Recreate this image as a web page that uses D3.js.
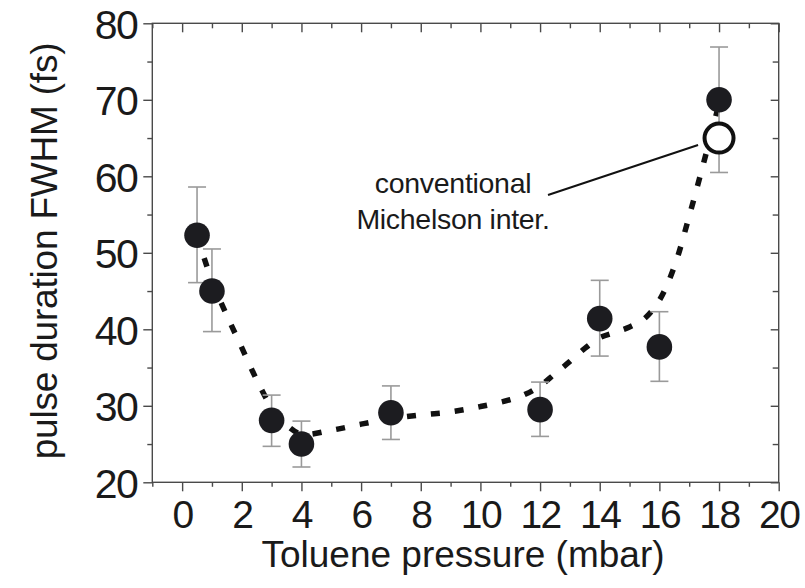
<!DOCTYPE html>
<html>
<head>
<meta charset="utf-8">
<script src="https://cdn.jsdelivr.net/npm/d3@7"></script>
<style>
  html, body { margin: 0; padding: 0; background: #fff; }
  svg { display: block; }
  text { font-family: "Liberation Sans", Arial, Helvetica, sans-serif; fill: #1a1a1a; }
</style>
</head>
<body>
<svg id="chart" width="805" height="588"></svg>
<script>
// Measured pulse duration vs toluene pressure
const pressure = [0.5, 1, 3, 4, 7, 12, 14, 16, 18];
const duration = [52.3, 45.0, 28.1, 25.0, 29.1, 29.5, 41.4, 37.7, 70.0];
const errUp    = [6.3, 5.5, 3.3, 3.0, 3.5, 3.6, 5.0, 4.6, 6.9];
const errDown  = [6.2, 5.3, 3.4, 3.0, 3.5, 3.5, 4.9, 4.5, 9.5];

// Reference measurement with a conventional Michelson interferometer
const michelsonP = [18];
const michelsonD = [65];

// Dashed guide-to-the-eye curve
const guideP = [0.5, 1, 1.5, 2, 2.5, 3, 3.5, 4, 5, 6, 7, 8, 9, 10, 11, 11.5, 12, 12.5, 13, 13.5, 14, 14.5, 15, 15.5, 16, 16.5, 17, 17.5, 18];
const guideD = [52.3, 46.3, 41.8, 37.6, 33.4, 29.8, 27.5, 26.3, 26.8, 27.6, 28.3, 28.8, 29.2, 29.9, 30.8, 31.5, 32.6, 34.2, 35.8, 37.5, 38.9, 39.6, 40.3, 41.4, 43.8, 48.2, 54.8, 62.0, 69.5];

// Axis ticks and labels
const xMajor = [0, 2, 4, 6, 8, 10, 12, 14, 16, 18, 20];
const xMinor = [-1, 1, 3, 5, 7, 9, 11, 13, 15, 17, 19];
const yMajor = [20, 30, 40, 50, 60, 70, 80];
const yMinor = [25, 35, 45, 55, 65, 75];

const xTitle = "Toluene pressure (mbar)";
const yTitle = "pulse duration FWHM (fs)";
const noteLines = ["conventional", "Michelson inter."];

const svg = d3.select("#chart");

const x = d3.scaleLinear().domain([-1, 20]).range([152.3, 778.7]);
const y = d3.scaleLinear().domain([20, 80]).range([482.3, 23.3]);

const axisColor = "#4a4a4a";

// Frame
svg.append("rect")
  .attr("x", x(-1)).attr("y", y(80))
  .attr("width", x(20) - x(-1)).attr("height", y(20) - y(80))
  .attr("fill", "none").attr("stroke", axisColor).attr("stroke-width", 1.4);

function styleAxis(g) {
  g.select(".domain").remove();
  g.selectAll(".tick line").attr("stroke", axisColor).attr("stroke-width", 1.4);
}

// Bottom axis: major + minor ticks outward, labels on majors
svg.append("g").attr("transform", `translate(0,${y(20)})`)
  .call(d3.axisBottom(x).tickValues(xMajor).tickSize(9).tickPadding(9).tickFormat(d3.format("d")))
  .call(styleAxis)
  .call(g => g.selectAll("text").attr("font-size", 39).attr("fill", "#1a1a1a")
        .attr("font-family", "Liberation Sans, Arial, sans-serif").attr("letter-spacing", -1.5));
svg.append("g").attr("transform", `translate(0,${y(20)})`)
  .call(d3.axisBottom(x).tickValues(xMinor).tickSize(4.5).tickFormat(""))
  .call(styleAxis);

// Top axis: ticks inward
svg.append("g").attr("transform", `translate(0,${y(80)})`)
  .call(d3.axisBottom(x).tickValues(xMajor).tickSize(9).tickFormat(""))
  .call(styleAxis);
svg.append("g").attr("transform", `translate(0,${y(80)})`)
  .call(d3.axisBottom(x).tickValues(xMinor).tickSize(5).tickFormat(""))
  .call(styleAxis);

// Left axis: ticks outward with labels
svg.append("g").attr("transform", `translate(${x(-1)},0)`)
  .call(d3.axisLeft(y).tickValues(yMajor).tickSize(9).tickPadding(6).tickFormat(d3.format("d")))
  .call(styleAxis)
  .call(g => g.selectAll("text").attr("font-size", 41).attr("fill", "#1a1a1a")
        .attr("font-family", "Liberation Sans, Arial, sans-serif").attr("letter-spacing", -1.5)
        .attr("dy", "0.36em"));
svg.append("g").attr("transform", `translate(${x(-1)},0)`)
  .call(d3.axisLeft(y).tickValues(yMinor).tickSize(5).tickFormat(""))
  .call(styleAxis);

// Right axis: ticks inward
svg.append("g").attr("transform", `translate(${x(20)},0)`)
  .call(d3.axisLeft(y).tickValues(yMajor).tickSize(8).tickFormat(""))
  .call(styleAxis);
svg.append("g").attr("transform", `translate(${x(20)},0)`)
  .call(d3.axisLeft(y).tickValues(yMinor).tickSize(6).tickFormat(""))
  .call(styleAxis);

// Axis titles
svg.append("text")
  .attr("x", 463).attr("y", 567)
  .attr("text-anchor", "middle").attr("font-size", 37)
  .attr("letter-spacing", 0)
  .text(xTitle);

svg.append("text")
  .attr("transform", `translate(57,251) rotate(-90)`)
  .attr("text-anchor", "middle").attr("font-size", 37)
  .attr("letter-spacing", -0.2)
  .text(yTitle);

// Guide curve
const guideData = guideP.map((p, i) => [p, guideD[i]]);
svg.append("path")
  .datum(guideData)
  .attr("d", d3.line().x(d => x(d[0])).y(d => y(d[1])).curve(d3.curveCatmullRom.alpha(0.5)))
  .attr("fill", "none").attr("stroke", "#111")
  .attr("stroke-width", 5.5).attr("stroke-dasharray", "9 15");

// Error bars
const pts = pressure.map((p, i) => ({ p, d: duration[i], up: errUp[i], dn: errDown[i] }));
const eb = svg.append("g").attr("stroke", "#9a9a9a").attr("stroke-width", 1.6).attr("fill", "none");
pts.forEach(pt => {
  const cx = x(pt.p), top = y(pt.d + pt.up), bot = y(pt.d - pt.dn);
  eb.append("line").attr("x1", cx).attr("x2", cx).attr("y1", top).attr("y2", bot);
  eb.append("line").attr("x1", cx - 9).attr("x2", cx + 9).attr("y1", top).attr("y2", top);
  eb.append("line").attr("x1", cx - 9).attr("x2", cx + 9).attr("y1", bot).attr("y2", bot);
});

// Filled markers
svg.append("g").selectAll("circle").data(pts).join("circle")
  .attr("cx", d => x(d.p)).attr("cy", d => y(d.d)).attr("r", 12.8)
  .attr("fill", "#1c1c20");

// Open marker
const mich = michelsonP.map((p, i) => ({ p, d: michelsonD[i] }));
svg.append("g").selectAll("circle").data(mich).join("circle")
  .attr("cx", d => x(d.p)).attr("cy", d => y(d.d)).attr("r", 14.5)
  .attr("fill", "#fff").attr("stroke", "#111").attr("stroke-width", 4);

// Annotation
const note = svg.append("g");
note.selectAll("text").data(noteLines).join("text")
  .attr("x", 453).attr("y", (d, i) => 193 + i * 36)
  .attr("text-anchor", "middle").attr("font-size", 28.5)
  .attr("letter-spacing", -0.3)
  .text(d => d);
const m = mich[0];
note.append("line")
  .attr("x1", 548).attr("y1", 195)
  .attr("x2", x(m.p) - 21).attr("y2", y(m.d) + 7)
  .attr("stroke", "#111").attr("stroke-width", 2);
</script>
</body>
</html>
